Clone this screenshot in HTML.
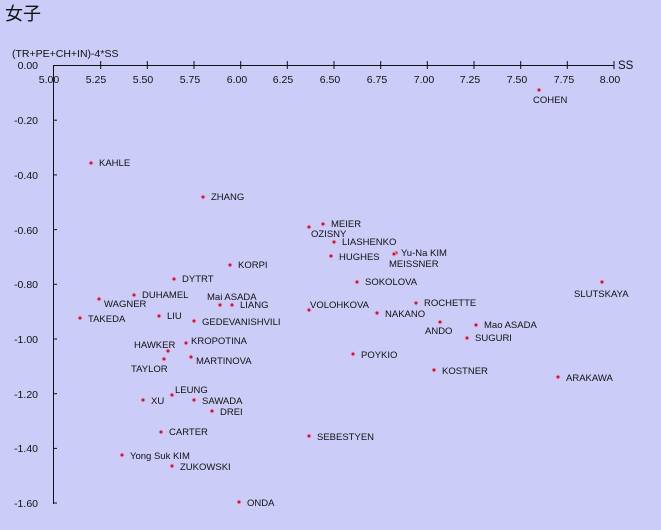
<!DOCTYPE html>
<html><head><meta charset="utf-8"><style>
html,body{margin:0;padding:0;background:#ccccf8;}
svg{display:block;font-family:"Liberation Sans","Noto Sans CJK JP",sans-serif;}
</style></head><body>
<svg width="661" height="530" viewBox="0 0 661 530" xmlns="http://www.w3.org/2000/svg">
<rect width="661" height="530" fill="#ccccf8"/>
<text x="5" y="20" font-size="18" fill="#111">女子</text>
<text x="12" y="57" font-size="10.5" fill="#111">(TR+PE+CH+IN)-4*SS</text>
<g stroke="#111" stroke-width="1">
<line x1="54" y1="65.5" x2="614" y2="65.5"/>
<line x1="53.5" y1="65" x2="53.5" y2="504"/>
<g>
<line x1="100.7" y1="61" x2="100.7" y2="69"/><line x1="147.3" y1="61" x2="147.3" y2="69"/><line x1="194" y1="61" x2="194" y2="69"/><line x1="240.7" y1="61" x2="240.7" y2="69"/><line x1="287.3" y1="61" x2="287.3" y2="69"/><line x1="334" y1="61" x2="334" y2="69"/><line x1="380.7" y1="61" x2="380.7" y2="69"/><line x1="427.3" y1="61" x2="427.3" y2="69"/><line x1="474" y1="61" x2="474" y2="69"/><line x1="520.7" y1="61" x2="520.7" y2="69"/><line x1="567.3" y1="61" x2="567.3" y2="69"/><line x1="614" y1="61" x2="614" y2="69"/>
</g>
<g>
<line x1="53" y1="120.2" x2="57" y2="120.2"/><line x1="53" y1="174.9" x2="57" y2="174.9"/><line x1="53" y1="229.6" x2="57" y2="229.6"/><line x1="53" y1="284.3" x2="57" y2="284.3"/><line x1="53" y1="339" x2="57" y2="339"/><line x1="53" y1="393.7" x2="57" y2="393.7"/><line x1="53" y1="448.4" x2="57" y2="448.4"/><line x1="53" y1="503" x2="57" y2="503"/>
</g>
</g>
<g font-size="10.5" fill="#111" text-anchor="middle">
<text x="49" y="83">5.00</text><text x="96" y="83">5.25</text><text x="143" y="83">5.50</text><text x="190" y="83">5.75</text><text x="237" y="83">6.00</text><text x="283" y="83">6.25</text><text x="330" y="83">6.50</text><text x="377" y="83">6.75</text><text x="424" y="83">7.00</text><text x="470" y="83">7.25</text><text x="517" y="83">7.50</text><text x="564" y="83">7.75</text><text x="610" y="83">8.00</text>
</g>
<text x="618" y="69" font-size="11.5" fill="#111">SS</text>
<g font-size="10.5" fill="#111" text-anchor="end">
<text x="38" y="69">0.00</text><text x="38" y="124">-0.20</text><text x="38" y="179">-0.40</text><text x="38" y="234">-0.60</text><text x="38" y="288">-0.80</text><text x="38" y="343">-1.00</text><text x="38" y="398">-1.20</text><text x="38" y="452">-1.40</text><text x="38" y="507">-1.60</text>
</g>
<g fill="#aa2244" stroke="#f0a8d0" stroke-width="1">
<circle cx="539" cy="90" r="2"/><circle cx="91" cy="163" r="2"/><circle cx="203" cy="197" r="2"/><circle cx="323" cy="224" r="2"/><circle cx="309" cy="227" r="2"/><circle cx="334" cy="242" r="2"/><circle cx="396" cy="253" r="2"/><circle cx="394" cy="254" r="2"/><circle cx="331" cy="256" r="2"/><circle cx="230" cy="265" r="2"/><circle cx="174" cy="279" r="2"/><circle cx="357" cy="282" r="2"/><circle cx="602" cy="282" r="2"/><circle cx="134" cy="295" r="2"/><circle cx="99" cy="299" r="2"/><circle cx="220" cy="305" r="2"/><circle cx="232" cy="305" r="2"/><circle cx="416" cy="303" r="2"/><circle cx="309" cy="310" r="2"/><circle cx="377" cy="313" r="2"/><circle cx="80" cy="318" r="2"/><circle cx="159" cy="316" r="2"/><circle cx="194" cy="321" r="2"/><circle cx="440" cy="322" r="2"/><circle cx="476" cy="325" r="2"/><circle cx="467" cy="338" r="2"/><circle cx="168" cy="351" r="2"/><circle cx="186" cy="343" r="2"/><circle cx="164" cy="359" r="2"/><circle cx="191" cy="357" r="2"/><circle cx="353" cy="354" r="2"/><circle cx="434" cy="370" r="2"/><circle cx="558" cy="377" r="2"/><circle cx="172" cy="395" r="2"/><circle cx="143" cy="400" r="2"/><circle cx="194" cy="400" r="2"/><circle cx="212" cy="411" r="2"/><circle cx="161" cy="432" r="2"/><circle cx="309" cy="436" r="2"/><circle cx="122" cy="455" r="2"/><circle cx="172" cy="466" r="2"/><circle cx="239" cy="502" r="2"/>
</g>
<g font-size="9.5" fill="#111">
<text x="533" y="103">COHEN</text>
<text x="99" y="166">KAHLE</text>
<text x="211" y="200">ZHANG</text>
<text x="331" y="227">MEIER</text>
<text x="311" y="237">OZISNY</text>
<text x="342" y="245">LIASHENKO</text>
<text x="401" y="256">Yu-Na KIM</text>
<text x="389" y="267">MEISSNER</text>
<text x="339" y="260">HUGHES</text>
<text x="238" y="268">KORPI</text>
<text x="182" y="282">DYTRT</text>
<text x="365" y="285">SOKOLOVA</text>
<text x="574" y="297">SLUTSKAYA</text>
<text x="142" y="298">DUHAMEL</text>
<text x="104" y="307">WAGNER</text>
<text x="207" y="300">Mai ASADA</text>
<text x="240" y="308">LIANG</text>
<text x="424" y="306">ROCHETTE</text>
<text x="310" y="308">VOLOHKOVA</text>
<text x="385" y="317">NAKANO</text>
<text x="88" y="322">TAKEDA</text>
<text x="167" y="319">LIU</text>
<text x="202" y="325">GEDEVANISHVILI</text>
<text x="425" y="334">ANDO</text>
<text x="484" y="328">Mao ASADA</text>
<text x="475" y="341">SUGURI</text>
<text x="134" y="348">HAWKER</text>
<text x="191" y="344">KROPOTINA</text>
<text x="131" y="372">TAYLOR</text>
<text x="196" y="364">MARTINOVA</text>
<text x="361" y="358">POYKIO</text>
<text x="442" y="374">KOSTNER</text>
<text x="566" y="381">ARAKAWA</text>
<text x="175" y="393">LEUNG</text>
<text x="151" y="404">XU</text>
<text x="202" y="404">SAWADA</text>
<text x="220" y="415">DREI</text>
<text x="169" y="435">CARTER</text>
<text x="317" y="440">SEBESTYEN</text>
<text x="130" y="459">Yong Suk KIM</text>
<text x="180" y="470">ZUKOWSKI</text>
<text x="247" y="506">ONDA</text>
</g>
</svg>
</body></html>
